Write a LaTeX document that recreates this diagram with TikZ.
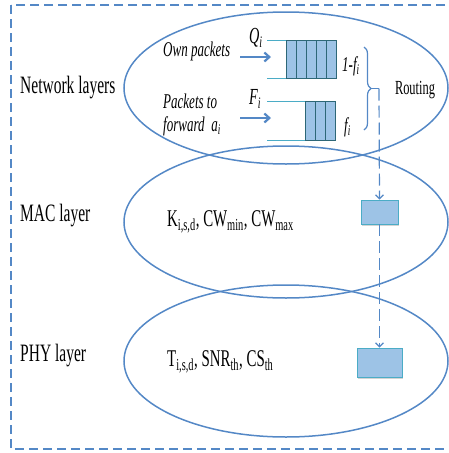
\documentclass[tikz,border=0pt]{standalone}
\usepackage{fontspec}
\setmainfont{Liberation Serif}[FakeStretch=0.62]
\usetikzlibrary{shapes.geometric,arrows.meta,decorations.pathreplacing,shadows}
\definecolor{layerblue}{RGB}{84,136,198}
\definecolor{queuecyan}{RGB}{75,172,198}
\definecolor{blockfill}{RGB}{157,195,230}
\tikzset{
  layer/.style={draw=layerblue, line width=1.5pt, ellipse, inner sep=0pt,
    minimum width=324pt, minimum height=152pt},
  layertext/.style={anchor=west, inner sep=0pt, font=\fontsize{25}{28}\selectfont},
  paramtext/.style={anchor=west, inner sep=0pt, font=\fontsize{24}{28}\selectfont},
  flowtext/.style={anchor=west, inner sep=0pt, font=\fontsize{21}{24}\selectfont\itshape},
  qblock/.style={draw=queuecyan!60!black, fill=blockfill, line width=0.6pt, inner sep=0pt,
    minimum width=10pt, minimum height=38pt,
    drop shadow={shadow xshift=1pt, shadow yshift=-1.2pt, opacity=0.45}},
  slotbox/.style={draw=queuecyan, fill=blockfill, line width=0.8pt, inner sep=0pt,
    drop shadow={shadow xshift=1pt, shadow yshift=-1.5pt, opacity=0.35}},
  qline/.style={queuecyan, line width=1pt},
  feed/.style={layerblue, line width=2.2pt, -{Straight Barb[length=5pt,width=9pt]}},
  routeline/.style={layerblue, line width=1.2pt, dash pattern=on 12pt off 5pt},
  frame/.style={layerblue, line width=1.5pt, dash pattern=on 9pt off 5pt}
}
\begin{document}
\begin{tikzpicture}[x=1pt, y=-1pt]
    \clip (0,0) rectangle (449,453);
    % Outer frame
    \draw[frame] (11,5) rectangle (470,449);
    % Layers
    \node[layer] (net) at (286,88) {};
    \node[layer] (mac) at (286,222) {};
    \node[layer] (phy) at (286,361) {};
    \node[layertext] (netlbl) at (20,88) {Network layers};
    \node[layertext] (maclbl) at (20,216) {MAC layer};
    \node[layertext] (phylbl) at (20,356) {PHY layer};
    % Queues
    \draw[qline] (267,40) -- (336,40);
    \draw[qline] (267,78) -- (336,78);
    \foreach \i in {1,...,5}
        \node[qblock] (own\i) at ({281+10*\i},59) {};
    \draw[qline] (267,101) -- (336,101);
    \draw[qline] (267,140) -- (336,140);
    \foreach \i in {1,...,3}
        \node[qblock, minimum height=39pt] (fwd\i) at ({300+10*\i},120.5) {};
    % Incoming flows
    \node[flowtext] (owntxt) at (163,51) {Own packets};
    \node[flowtext] (fwdtxt1) at (163,101) {Packets to};
    \node[flowtext] (fwdtxt2) at (163,126) {forward\, a\textsubscript{i}};
    \node[flowtext, font=\fontsize{23}{24}\selectfont\itshape] (qlbl) at (249,38) {Q\textsubscript{i}};
    \node[flowtext, font=\fontsize{23}{24}\selectfont\itshape] (flbl) at (249,99) {F\textsubscript{i}};
    \coordinate (ownin) at (240,57);
    \coordinate (ownend) at (271,57);
    \coordinate (fwdin) at (240,118);
    \coordinate (fwdend) at (271,118);
    \draw[feed] (ownin) -- (ownend);
    \draw[feed] (fwdin) -- (fwdend);
    % Routing split
    \node[flowtext] (splitlbl) at (342,66) {1-f\textsubscript{i}};
    \node[flowtext] (keeplbl) at (344,127) {f\textsubscript{i}};
    \draw[layerblue, line width=1.2pt, decorate, decoration={brace, amplitude=7pt}]
        (364,47) -- (364,130);
    \coordinate (route) at (379,88.5);
    \draw[layerblue, line width=1.2pt] (371,88.5) -- (route);
    \node[font=\fontsize{20}{24}\selectfont] (routelbl) at (415,90) {Routing};
    % Slots in MAC and PHY
    \node[slotbox, minimum width=37pt, minimum height=24pt] (macslot) at (379.5,212) {};
    \node[slotbox, minimum width=45pt, minimum height=29pt] (physlot) at (379.5,362.5) {};
    \draw[routeline, -{Straight Barb[length=4pt,width=8pt]}] (route) -- (macslot.north);
    \draw[routeline, -{Straight Barb[length=4pt,width=8pt]}] (macslot.south) -- (physlot.north);
    % Parameters
    \node[paramtext] (macpar) at (167,222) {K\textsubscript{i,s,d}, CW\textsubscript{min}, CW\textsubscript{max}};
    \node[paramtext] (phypar) at (167,362) {T\textsubscript{i,s,d}, SNR\textsubscript{th}, CS\textsubscript{th}};
\end{tikzpicture}
\end{document}
